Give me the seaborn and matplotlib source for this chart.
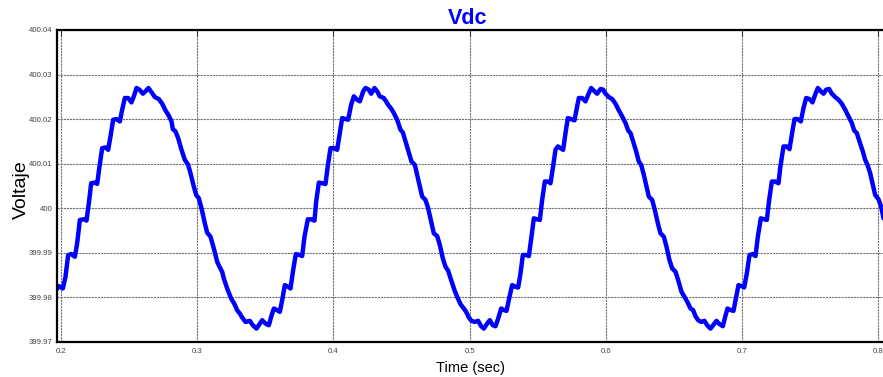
import matplotlib
matplotlib.use("Agg")
import matplotlib.pyplot as plt
import seaborn as sns
import pandas as pd

# DC-link voltage trace (seconds, volts)
time_s = [
    0.19670, 0.19841, 0.20135, 0.20330, 0.20526, 0.20771, 0.21016, 0.21187, 0.21383, 0.21676,
    0.21872, 0.22044, 0.22215, 0.22484, 0.22655, 0.22827, 0.23023, 0.23267, 0.23463, 0.23634,
    0.23830, 0.24075, 0.24320, 0.24491, 0.24687, 0.24932, 0.25176, 0.25348, 0.25543, 0.25764,
    0.26008, 0.26204, 0.26424, 0.26645, 0.26889, 0.27183, 0.27428, 0.27673, 0.27917, 0.28113,
    0.28211, 0.28407, 0.28603, 0.28847, 0.29092, 0.29337, 0.29508, 0.29753, 0.29924, 0.30120,
    0.30316, 0.30561, 0.30732, 0.30977, 0.31221, 0.31466, 0.31662, 0.31833,
    0.31955, 0.32200, 0.32494, 0.32739, 0.32935, 0.33130, 0.33302, 0.33546, 0.33865, 0.34085,
    0.34354, 0.34574, 0.34770, 0.35015, 0.35260, 0.35431, 0.35627, 0.35871, 0.36067, 0.36239,
    0.36434, 0.36679, 0.36850, 0.37046, 0.37242, 0.37536, 0.37707, 0.37878, 0.38123, 0.38368,
    0.38612, 0.38735, 0.38931, 0.39175, 0.39420, 0.39591, 0.39787, 0.40032, 0.40277, 0.40473,
    0.40644, 0.40889, 0.41084, 0.41305, 0.41500, 0.41745, 0.41941, 0.42186, 0.42357, 0.42602,
    0.42773, 0.43018, 0.43214, 0.43409, 0.43703, 0.43948, 0.44070,
    0.44266, 0.44437, 0.44682, 0.44927, 0.45098, 0.45294, 0.45539, 0.45734, 0.45979, 0.46150,
    0.46346, 0.46518, 0.46762, 0.46958, 0.47178, 0.47374, 0.47619, 0.47815, 0.48035, 0.48231,
    0.48427, 0.48647, 0.48892, 0.49087, 0.49332, 0.49577, 0.49748, 0.49944, 0.50140, 0.50384,
    0.50629, 0.50849, 0.51045, 0.51290, 0.51486, 0.51706, 0.51902, 0.52098, 0.52318, 0.52538,
    0.52710, 0.52930, 0.53126, 0.53370, 0.53566, 0.53737, 0.53909, 0.54153, 0.54349, 0.54545,
    0.54716, 0.54961, 0.55157, 0.55328, 0.55524, 0.55769, 0.55940, 0.56111,
    0.56307, 0.56479, 0.56674, 0.56870, 0.57041, 0.57213, 0.57457, 0.57702, 0.57849, 0.58020,
    0.58265, 0.58510, 0.58706, 0.58926, 0.59171, 0.59366, 0.59611, 0.59807, 0.59978, 0.60223,
    0.60468, 0.60713, 0.60957, 0.61202, 0.61447, 0.61643, 0.61814, 0.62010, 0.62230, 0.62426,
    0.62597, 0.62793, 0.62989, 0.63160, 0.63405, 0.63600, 0.63821, 0.64017, 0.64261, 0.64457,
    0.64677, 0.64873, 0.65118, 0.65314, 0.65558, 0.65779, 0.66023, 0.66219, 0.66415, 0.66586,
    0.66782, 0.67002, 0.67247, 0.67443, 0.67688, 0.67932, 0.68128, 0.68299,
    0.68593, 0.68764, 0.68936, 0.69181, 0.69376, 0.69572, 0.69743, 0.69988, 0.70160, 0.70355,
    0.70551, 0.70796, 0.70992, 0.71163, 0.71383, 0.71628, 0.71824, 0.71995, 0.72191, 0.72436,
    0.72680, 0.72803, 0.73047, 0.73292, 0.73488, 0.73659, 0.73855, 0.74075, 0.74320, 0.74516,
    0.74712, 0.74956, 0.75177, 0.75372, 0.75568, 0.75788, 0.75984, 0.76180, 0.76400, 0.76596,
    0.76841, 0.77086, 0.77330, 0.77575, 0.77820, 0.78065, 0.78236, 0.78432, 0.78627, 0.78848,
    0.79044, 0.79215, 0.79411, 0.79606, 0.79778, 0.80022, 0.80218, 0.80390,
]

vdc = [
    399.98178, 399.98253, 399.98201, 399.98463, 399.98951, 399.98973, 399.98913, 399.99213, 399.99738, 399.99753,
    399.99723, 400.00112, 400.00562, 400.00577, 400.00547, 400.00937, 400.01349, 400.01364, 400.01312, 400.01612,
    400.01987, 400.02001, 400.01949, 400.02211, 400.02474, 400.02474, 400.02376, 400.02511, 400.02699, 400.02661,
    400.02571, 400.02624, 400.02699, 400.02601, 400.02496, 400.02451, 400.02346, 400.02196, 400.02076, 400.01949,
    400.01777, 400.01724, 400.01574, 400.01312, 400.01087, 400.00975, 400.00787, 400.00487, 400.00300, 400.00225,
    400.00000, 399.99663, 399.99453, 399.99363, 399.99100, 399.98801, 399.98673, 399.98576,
    399.98426, 399.98201, 399.97976, 399.97849, 399.97714, 399.97639, 399.97549, 399.97451, 399.97474, 399.97376,
    399.97301, 399.97399, 399.97489, 399.97414, 399.97376, 399.97564, 399.97751, 399.97714, 399.97676, 399.97939,
    399.98276, 399.98238, 399.98201, 399.98613, 399.98973, 399.98951, 399.98928, 399.99363, 399.99753, 399.99753,
    399.99723, 400.00150, 400.00577, 400.00562, 400.00547, 400.00952, 400.01349, 400.01349, 400.01312, 400.01687,
    400.02024, 400.02001, 400.01987, 400.02324, 400.02511, 400.02436, 400.02399, 400.02624, 400.02699, 400.02661,
    400.02571, 400.02699, 400.02624, 400.02511, 400.02474, 400.02361, 400.02301,
    400.02226, 400.02136, 400.01987, 400.01762, 400.01702, 400.01499, 400.01237, 400.01049, 400.00975, 400.00750,
    400.00487, 400.00262, 400.00187, 400.00000, 399.99700, 399.99438, 399.99378, 399.99175, 399.98876, 399.98688,
    399.98598, 399.98388, 399.98163, 399.98013, 399.97849, 399.97751, 399.97676, 399.97549, 399.97474, 399.97451,
    399.97474, 399.97354, 399.97301, 399.97414, 399.97489, 399.97376, 399.97354, 399.97526, 399.97751, 399.97714,
    399.97699, 399.98013, 399.98276, 399.98238, 399.98223, 399.98538, 399.98951, 399.98951, 399.98928, 399.99363,
    399.99775, 399.99753, 399.99738, 400.00187, 400.00600, 400.00600, 400.00562, 400.00900,
    400.01312, 400.01387, 400.01349, 400.01312, 400.01687, 400.02024, 400.02001, 400.01972, 400.02211, 400.02474,
    400.02474, 400.02399, 400.02549, 400.02699, 400.02624, 400.02571, 400.02676, 400.02661, 400.02571, 400.02496,
    400.02451, 400.02346, 400.02196, 400.02061, 400.01912, 400.01747, 400.01687, 400.01499, 400.01274, 400.01049,
    400.00975, 400.00750, 400.00487, 400.00262, 400.00187, 399.99963, 399.99663, 399.99438, 399.99363, 399.99138,
    399.98838, 399.98651, 399.98576, 399.98388, 399.98126, 399.98013, 399.97879, 399.97751, 399.97714, 399.97579,
    399.97489, 399.97451, 399.97474, 399.97376, 399.97301, 399.97399, 399.97474, 399.97414,
    399.97354, 399.97564, 399.97751, 399.97714, 399.97699, 399.98013, 399.98276, 399.98253, 399.98223, 399.98538,
    399.98951, 399.98973, 399.98928, 399.99363, 399.99775, 399.99753, 399.99738, 400.00187, 400.00600, 400.00600,
    400.00562, 400.00900, 400.01387, 400.01387, 400.01327, 400.01649, 400.02001, 400.02001, 400.01949, 400.02249,
    400.02474, 400.02451, 400.02376, 400.02549, 400.02699, 400.02624, 400.02571, 400.02661, 400.02676, 400.02571,
    400.02496, 400.02436, 400.02346, 400.02211, 400.02061, 400.01912, 400.01747, 400.01687, 400.01499, 400.01297,
    400.01087, 400.00975, 400.00787, 400.00525, 400.00300, 400.00202, 400.00037, 399.99775,
]

x_ticks = [0.2, 0.3, 0.4, 0.5, 0.6, 0.7, 0.8]
x_tick_labels = ["0.2", "0.3", "0.4", "0.5", "0.6", "0.7", "0.8"]
y_ticks = [399.97, 399.98, 399.99, 400.00, 400.01, 400.02, 400.03, 400.04]
y_tick_labels = ["399.97", "399.98", "399.99", "400", "400.01", "400.02", "400.03", "400.04"]

sns.set_style("white")
plt.rcParams["font.family"] = ["Liberation Sans", "DejaVu Sans"]

W, H = 883, 377
fig = plt.figure(figsize=(W / 100, H / 100), dpi=100)
fig.patch.set_facecolor("white")

# axes box in pixel terms: left spine at x=56.5, top 30, bottom 342, right edge past the figure
left_px, right_px, top_px, bot_px = 56.5, 891.0, 30.0, 342.0
ax = fig.add_axes([left_px / W, 1 - bot_px / H, (right_px - left_px) / W, (bot_px - top_px) / H])

df = pd.DataFrame({"Time (sec)": time_s, "Voltaje": vdc})
sns.lineplot(data=df, x="Time (sec)", y="Voltaje", ax=ax, color="#0000ff",
             linewidth=3.2, sort=False, estimator=None, solid_joinstyle="round",
             solid_capstyle="round")

ax.set_xlim(0.1967, 0.1967 + (right_px - left_px) / 1362.0)
ax.set_ylim(399.97, 400.04)
ax.set_xticks(x_ticks)
ax.set_xticklabels(x_tick_labels)
ax.set_yticks(y_ticks)
ax.set_yticklabels(y_tick_labels)

ax.grid(True, color="#707070", linestyle=(0, (2.0, 0.8)), linewidth=0.8)
ax.set_axisbelow(True)

for side in ["left", "bottom", "top", "right"]:
    ax.spines[side].set_visible(True)
    ax.spines[side].set_color("black")
    ax.spines[side].set_linewidth(1.6)

ax.tick_params(axis="both", direction="in", length=4, width=0.8, color="#333333",
               labelsize=5.6, labelcolor="#444444", top=True, right=True)
ax.tick_params(axis="x", pad=4)
ax.tick_params(axis="y", pad=3)

ax.set_xlabel("")
ax.set_ylabel("")

fig.text(468 / W, 1 - 18 / H, "Vdc", color="#0000ff", fontsize=15.5,
         fontweight="bold", ha="center", va="center")
fig.text(471 / W, 1 - 368 / H, "Time (sec)", color="black", fontsize=10.5,
         ha="center", va="center")
fig.text(21 / W, 1 - 190 / H, "Voltaje", color="black", fontsize=14,
         rotation=90, ha="center", va="center")

fig.savefig("out.png", dpi=100, facecolor="white")
